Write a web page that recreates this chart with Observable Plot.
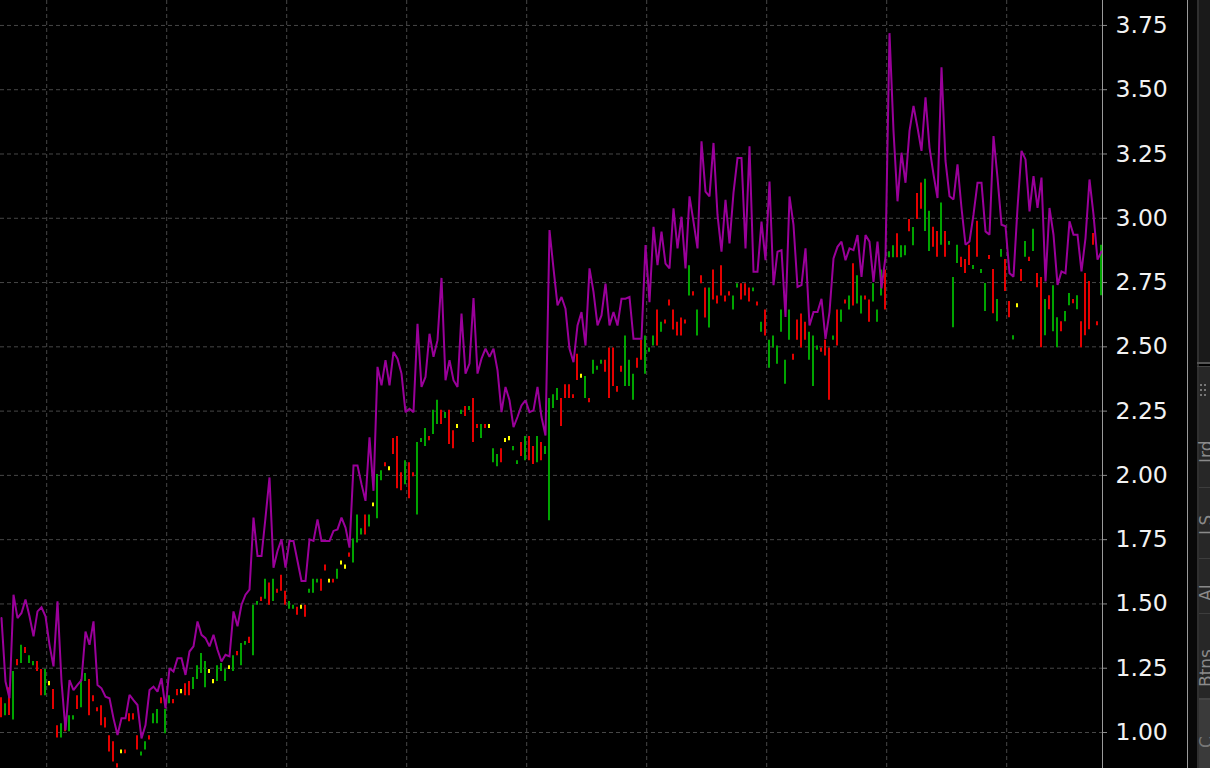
<!DOCTYPE html>
<html>
<head>
<meta charset="utf-8">
<script src="https://cdn.jsdelivr.net/npm/d3@7"></script>
<script src="https://cdn.jsdelivr.net/npm/@observablehq/plot@0.6"></script>
<style>
  html, body { margin: 0; padding: 0; background: #000; overflow: hidden; }
  #wrap { position: relative; width: 1210px; height: 768px; background: #000; overflow: hidden; }
  #chart { position: absolute; left: 0; top: 0; }
  .deco { position: absolute; }
  .vtxt { position: absolute; transform-origin: left top; transform: rotate(-90deg);
          font-family: "DejaVu Sans", sans-serif; font-size: 17px; line-height: 17px;
          color: #8a8a8a; white-space: nowrap; }
</style>
</head>
<body>
<div id="wrap">
  <div id="chart"></div>
  <!-- right-side UI strip -->
  <div class="deco" style="left:1187px;top:0;width:1px;height:768px;background:#9a9a9a"></div>
  <div class="deco" style="left:1188px;top:0;width:9px;height:768px;background:#080808"></div>
  <div class="deco" style="left:1197px;top:0;width:2px;height:768px;background:#303030"></div>
  <div class="deco" style="left:1199px;top:0;width:11px;height:362px;background:#1a1a1a"></div>
  <div class="deco" style="left:1197px;top:362px;width:13px;height:2px;background:#555"></div>
  <div class="deco" style="left:1197px;top:366px;width:13px;height:1px;background:#444"></div>
  <div class="deco" style="left:1199px;top:367px;width:11px;height:333px;background:#272727"></div>
  <div class="deco" style="left:1199px;top:700px;width:11px;height:68px;background:#3a3a3a"></div>
  <div class="deco" style="left:1199px;top:487px;width:11px;height:1px;background:#3d3d3d"></div>
  <div class="deco" style="left:1199px;top:558px;width:11px;height:1px;background:#3d3d3d"></div>
  <div class="deco" style="left:1199px;top:613px;width:11px;height:1px;background:#3d3d3d"></div>
  <div class="deco" style="left:1199px;top:698px;width:11px;height:2px;background:#444"></div>
  <div class="deco" style="left:1200px;top:384px;width:2px;height:2px;background:#777"></div>
  <div class="deco" style="left:1200px;top:389px;width:2px;height:2px;background:#777"></div>
  <div class="deco" style="left:1200px;top:394px;width:2px;height:2px;background:#777"></div>
  <div class="deco" style="left:1204px;top:384px;width:2px;height:2px;background:#777"></div>
  <div class="deco" style="left:1204px;top:389px;width:2px;height:2px;background:#777"></div>
  <div class="deco" style="left:1204px;top:394px;width:2px;height:2px;background:#777"></div>
  <div class="vtxt" style="left:1198px;top:463px">Ird</div>
  <div class="vtxt" style="left:1198px;top:535px">LS</div>
  <div class="vtxt" style="left:1198px;top:601px">AI</div>
  <div class="vtxt" style="left:1198px;top:687px">Btns</div>
  <div class="vtxt" style="left:1198px;top:748px;color:#777">C</div>
</div>
<script>
// ---- data ----
// purple line value for each session (index 0..275)
const lineValues = [
  1.445,1.198,1.133,1.536,1.445,1.465,1.517,1.452,1.374,1.471,
  1.487,1.452,1.341,1.257,1.510,1.198,1.009,1.204,1.165,1.185,
  1.204,1.393,1.341,1.432,1.185,1.172,1.139,1.133,1.055,0.990,
  1.055,1.055,1.146,1.126,1.107,0.977,1.029,1.165,1.178,1.159,
  1.211,1.094,1.250,1.237,1.289,1.289,1.224,1.315,1.335,1.432,
  1.380,1.367,1.335,1.380,1.322,1.276,1.302,1.296,1.471,1.413,
  1.497,1.536,1.556,1.836,1.686,1.686,1.836,1.992,1.641,1.706,
  1.751,1.641,1.745,1.745,1.667,1.589,1.589,1.751,1.745,1.829,
  1.745,1.745,1.745,1.784,1.790,1.836,1.797,1.719,2.038,2.038,
  1.966,1.901,2.148,1.940,2.422,2.350,2.448,2.350,2.480,2.454,
  2.396,2.246,2.259,2.246,2.590,2.344,2.383,2.551,2.461,2.526,
  2.768,2.370,2.448,2.370,2.344,2.629,2.396,2.435,2.690,2.396,
  2.454,2.493,2.461,2.493,2.409,2.246,2.344,2.292,2.188,2.227,
  2.272,2.292,2.246,2.253,2.344,2.227,2.155,2.954,2.805,2.661,
  2.694,2.648,2.492,2.440,2.583,2.635,2.505,2.805,2.714,2.583,
  2.622,2.746,2.583,2.635,2.583,2.687,2.687,2.694,2.531,2.531,
  2.531,2.896,2.674,2.967,2.818,2.948,2.824,2.805,3.039,2.883,
  3.006,2.805,3.085,2.987,2.883,3.299,3.104,3.085,3.293,3.013,
  2.870,3.072,2.902,3.100,3.234,3.234,2.883,3.280,2.792,2.792,
  2.987,2.837,3.143,2.740,2.870,2.876,2.616,3.085,2.974,2.733,
  2.740,2.883,2.583,2.635,2.635,2.687,2.531,2.635,2.844,2.889,
  2.909,2.837,2.883,2.876,2.935,2.772,2.935,2.909,2.753,2.909,
  2.727,2.850,3.720,3.340,3.066,3.255,3.138,3.340,3.437,3.353,
  3.262,3.470,3.275,3.171,3.079,3.587,3.223,3.086,3.073,3.210,
  3.040,2.897,2.910,3.014,3.138,3.138,2.949,2.936,3.320,3.158,
  2.975,2.969,2.786,2.773,3.040,3.262,3.229,3.027,3.164,3.040,
  3.158,2.754,3.040,2.936,2.741,2.793,2.786,2.988,2.936,2.936,
  2.793,2.923,3.151,3.014,2.839,2.871
];

// bar low for each session
const barLow = [
  1.057,1.065,1.066,1.049,1.260,1.268,1.307,1.268,1.260,1.237,
  1.143,1.143,1.182,1.089,0.979,0.979,1.003,1.003,1.049,1.089,
  1.096,1.198,1.065,1.120,1.081,1.026,1.018,0.924,0.885,0.862,
  0.917,0.917,1.042,1.049,0.932,0.909,0.932,0.971,1.034,1.034,
  1.112,0.995,1.112,1.112,1.143,1.151,1.143,1.143,1.167,1.206,
  1.229,1.174,1.229,1.190,1.198,1.237,1.198,1.245,1.237,1.299,
  1.260,1.339,1.346,1.299,1.495,1.510,1.518,1.495,1.510,1.542,
  1.549,1.495,1.479,1.479,1.456,1.479,1.448,1.542,1.542,1.581,
  1.549,1.628,1.581,1.581,1.596,1.651,1.635,1.682,1.659,1.737,
  1.768,1.768,1.799,1.878,1.831,1.979,2.034,2.018,2.081,1.948,
  1.940,1.964,1.909,1.995,1.846,2.128,2.112,2.135,2.159,2.198,
  2.198,2.221,2.120,2.104,2.182,2.237,2.229,2.252,2.128,2.182,
  2.143,2.182,2.182,2.049,2.034,2.049,2.128,2.135,2.096,2.042,
  2.073,2.057,2.057,2.042,2.049,2.057,2.081,1.824,2.260,2.291,
  2.190,2.299,2.299,2.299,2.369,2.378,2.299,2.283,2.393,2.409,
  2.432,2.401,2.299,2.346,2.323,2.401,2.346,2.346,2.292,2.417,
  2.448,2.393,2.479,2.503,2.503,2.557,2.589,2.659,2.565,2.542,
  2.542,2.589,2.698,2.698,2.542,2.745,2.612,2.573,2.682,2.667,
  2.698,2.674,2.698,2.643,2.729,2.682,2.698,2.674,2.714,2.659,
  2.557,2.542,2.417,2.495,2.432,2.557,2.354,2.526,2.448,2.526,
  2.495,2.526,2.448,2.346,2.487,2.479,2.464,2.292,2.526,2.503,
  2.596,2.667,2.643,2.659,2.667,2.628,2.682,2.596,2.674,2.596,
  2.698,2.643,2.846,2.846,2.846,2.846,2.854,2.948,2.893,2.995,
  3.035,2.949,2.871,2.887,2.848,2.895,2.848,2.895,2.574,2.824,
  2.809,2.785,2.816,2.801,2.848,2.785,2.637,2.840,2.629,2.598,
  2.848,2.715,2.613,2.527,2.652,2.754,2.848,2.832,2.871,2.730,
  2.496,2.543,2.644,2.559,2.496,2.559,2.598,2.660,2.668,2.644,
  2.496,2.543,2.566,2.895,2.582,2.699
];

// bar high for each session
const barHigh = [
  1.135,1.112,1.174,1.237,1.284,1.339,1.331,1.299,1.276,1.276,
  1.245,1.245,1.198,1.167,1.026,1.034,1.042,1.065,1.065,1.143,
  1.206,1.229,1.206,1.143,1.096,1.104,1.057,0.987,0.964,0.878,
  0.932,0.932,1.073,1.073,0.987,0.924,0.964,0.987,1.073,1.089,
  1.135,1.089,1.143,1.128,1.167,1.167,1.190,1.198,1.214,1.260,
  1.307,1.276,1.245,1.206,1.260,1.268,1.245,1.260,1.299,1.315,
  1.346,1.354,1.370,1.495,1.510,1.526,1.596,1.581,1.596,1.557,
  1.612,1.549,1.510,1.495,1.487,1.495,1.495,1.557,1.596,1.596,
  1.596,1.651,1.596,1.596,1.635,1.667,1.651,1.698,1.753,1.846,
  1.792,1.846,1.846,1.893,2.003,2.018,2.049,2.034,2.143,2.151,
  2.010,2.057,2.049,2.010,2.128,2.143,2.182,2.151,2.253,2.292,
  2.253,2.245,2.253,2.174,2.198,2.253,2.268,2.268,2.299,2.198,
  2.198,2.198,2.198,2.104,2.081,2.104,2.143,2.151,2.112,2.057,
  2.128,2.151,2.151,2.112,2.151,2.128,2.112,2.299,2.314,2.338,
  2.299,2.353,2.353,2.314,2.471,2.393,2.385,2.299,2.448,2.424,
  2.448,2.448,2.495,2.495,2.346,2.424,2.542,2.448,2.393,2.456,
  2.526,2.542,2.495,2.542,2.643,2.596,2.604,2.682,2.643,2.596,
  2.612,2.604,2.815,2.714,2.643,2.776,2.729,2.729,2.799,2.698,
  2.815,2.698,2.714,2.698,2.745,2.745,2.745,2.729,2.729,2.674,
  2.596,2.643,2.526,2.542,2.503,2.643,2.448,2.643,2.471,2.604,
  2.628,2.596,2.557,2.542,2.503,2.495,2.526,2.495,2.542,2.643,
  2.643,2.682,2.698,2.823,2.776,2.698,2.698,2.682,2.745,2.643,
  2.799,2.799,2.870,2.893,2.940,2.893,2.893,2.995,2.964,3.096,
  3.137,3.152,3.027,2.965,2.949,3.059,2.949,2.910,2.770,2.895,
  2.848,2.840,2.895,2.816,2.988,2.801,2.746,2.855,2.801,2.684,
  2.879,2.840,2.676,2.543,2.668,2.801,2.910,2.848,2.957,2.785,
  2.770,2.684,2.699,2.738,2.613,2.598,2.637,2.707,2.684,2.699,
  2.598,2.785,2.754,2.941,2.598,2.895
];

// bar direction: u = up (green), d = down (red), n = unchanged (yellow)
const barDir = (
  "dudududuud" + "dundduduud" + "uudddddddd" + "ndddduuduu" + "duuddndduu" +
  "uunnuuunud" + "uuduududud" + "dduudnduuu" + "ddndunnduu" + "udunuudndd" +
  "dudduuuduu" + "duddnududd" + "udnuudnnuu" + "dudduduuuu" + "dddddnuduu" +
  "uddddduuud" + "duuududddd" + "ddududdudd" + "ddduudddud" + "uduuuuuudd" +
  "dduuudddud" + "ududuudduu" + "uduuduudud" + "duudduduuu" + "ddduduuddu" +
  "uddundudud" + "duduuduudu" + "dddddu"
).split("");

const dirNames = ["u", "d", "n"];
const dirColors = ["#00a400", "#e40000", "#ffff00"];

const yTicks = [1.00, 1.25, 1.50, 1.75, 2.00, 2.25, 2.50, 2.75, 3.00, 3.25, 3.50, 3.75];
const yDomain = [0.860, 3.847];
// session index where the vertical period grid lines fall
const periodGrid = [11.3, 41.3, 71.3, 101.3, 131.3, 161.3, 191.3, 221.3, 251.3];
const xDomain = [-0.25, 275.25];

// ---- build ----
const bars = barLow.map((lo, i) => ({i, lo, hi: barHigh[i], dir: barDir[i]}));
const line = lineValues.map((v, i) => ({i, v}));

const chart = Plot.plot({
  width: 1210,
  height: 768,
  marginLeft: 0,
  marginRight: 108,
  marginTop: 0,
  marginBottom: 0,
  style: {background: "#000", color: "#f0f0f0", fontFamily: "'DejaVu Sans', sans-serif", overflow: "visible"},
  x: {domain: xDomain, axis: null},
  y: {domain: yDomain, axis: null},
  color: {domain: dirNames, range: dirColors},
  marks: [
    Plot.ruleY(yTicks, {stroke: "#474747", strokeDasharray: "4,3"}),
    Plot.ruleX(periodGrid, {stroke: "#474747", strokeDasharray: "4,3"}),
    Plot.ruleX(bars, {x: "i", y1: "lo", y2: "hi", stroke: "dir", strokeWidth: 2, dx: -0.5}),
    Plot.line(line, {x: "i", y: "v", stroke: "#9a009a", strokeWidth: 2, strokeLinejoin: "miter", strokeMiterlimit: 2}),
    Plot.ruleX([xDomain[1]], {stroke: "#9a9a9a"}),
    Plot.axisY(yTicks, {
      anchor: "right", tickSize: 4, tickPadding: 9,
      tickFormat: d3.format(".2f"),
      stroke: "#8a8a8a", fill: "#f2f2f2", fontSize: 23.5, label: null
    })
  ]
});
document.getElementById("chart").appendChild(chart);
</script>
</body>
</html>
